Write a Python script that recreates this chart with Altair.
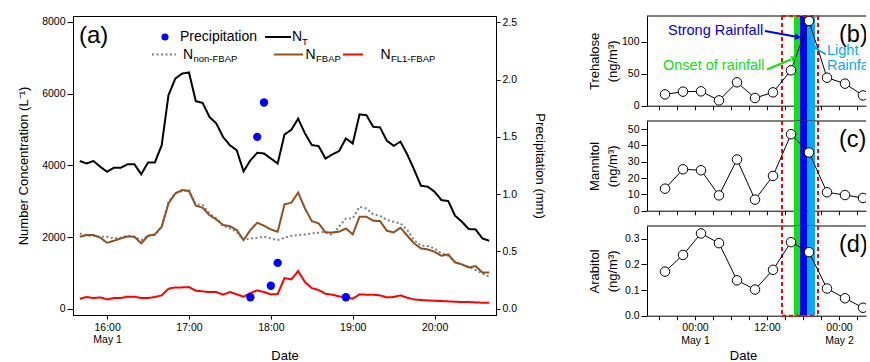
import altair as alt
import pandas as pd

FONT = "Liberation Sans"

# ---------------- Panel (a) data ----------------
times_a = ["15:40","15:45","15:50","15:55","16:00","16:05","16:10","16:15","16:20","16:25",
           "16:30","16:35","16:40","16:45","16:50","16:55","17:00","17:05","17:10","17:15",
           "17:20","17:25","17:30","17:35","17:40","17:45","17:50","17:55","18:00","18:05",
           "18:10","18:15","18:20","18:25","18:30","18:35","18:40","18:45","18:50","18:55",
           "19:00","19:05","19:10","19:15","19:20","19:25","19:30","19:35","19:40","19:45",
           "19:50","19:55","20:00","20:05","20:10","20:15","20:20","20:25","20:30","20:35","20:40"]

n_t = [4120,4050,4120,3960,3820,3930,3930,4030,4030,3750,
       4080,4080,4560,5960,6420,6560,6590,5790,5740,5350,
       5170,4790,4560,4420,3830,4140,4350,4330,4190,4050,
       4860,4990,5300,4890,4565,4537,4190,4304,4397,4750,
       4610,5420,5400,5075,5057,4685,4546,4658,4300,3880,
       3430,3403,3264,3031,3003,2594,2427,2222,2213,1962,1897]

n_fbap = [2008,2055,2055,1980,1840,1896,1961,2017,2008,1822,
          2036,2073,2287,2938,3217,3310,3282,2873,2817,2612,
          2491,2333,2305,2194,1915,2194,2398,2315,2212,2147,
          2910,2957,3240,2798,2445,2380,2129,2129,2147,2240,
          2073,2566,2566,2454,2445,2175,2129,2259,2036,1822,
          1682,1654,1589,1478,1515,1292,1236,1152,1189,1013,1013]

n_nonfbap = [2100,2036,2036,2008,2008,1961,1980,2036,2008,1915,
             2036,2055,2287,2985,3217,3282,3310,2910,2892,2659,
             2519,2315,2240,2147,1915,1961,1980,2008,1961,1915,
             1980,2036,2055,2073,2100,2119,2147,2055,2287,2519,
             2519,2845,2798,2631,2594,2473,2426,2380,2194,1915,
             1757,1747,1682,1543,1478,1310,1236,1171,1078,985,892]

n_fl1 = [280,326,298,316,260,298,298,335,335,298,
         298,326,372,558,595,595,604,502,484,465,
         465,391,465,400,335,437,512,465,400,409,
         855,818,1050,744,577,521,419,391,344,316,
         279,400,391,391,372,316,326,372,307,260,
         242,232,223,214,205,195,186,186,177,167,167]

precip_times = ["17:45", "17:50", "17:55", "18:00", "18:05", "18:55"]
precip_mm = [0.1, 1.5, 1.8, 0.2, 0.4, 0.1]

# ---------------- Panels (b)-(d) data ----------------
sample_times = ["2017-04-30 19:00", "2017-04-30 22:00", "2017-05-01 01:00", "2017-05-01 04:00",
                "2017-05-01 07:00", "2017-05-01 10:00", "2017-05-01 13:00", "2017-05-01 16:00",
                "2017-05-01 19:00", "2017-05-01 22:00", "2017-05-02 01:00", "2017-05-02 04:00"]
trehalose = [17.7, 21.9, 22.4, 8.3, 36.5, 12.0, 20.8, 55.2, 132.3, 43.7, 34.4, 16.1]
mannitol = [13.5, 25.4, 24.8, 9.4, 31.4, 6.8, 21.3, 46.9, 35.7, 11.3, 9.6, 7.8]
arabitol = [0.172, 0.237, 0.321, 0.283, 0.138, 0.102, 0.179, 0.287, 0.248, 0.106, 0.068, 0.031]

band_start = ["2017-05-01 16:30", "2017-05-01 17:30", "2017-05-01 18:45"]
band_end = ["2017-05-01 17:30", "2017-05-01 18:45", "2017-05-01 20:00"]
band_color = ["#11E011", "#0000F2", "#0AA8FA"]
sampling_window = ["2017-05-01 14:30", "2017-05-01 20:30"]


def hm(s):
    h, m = s.split(":")
    return int(h) + int(m) / 60.0


REF = pd.Timestamp("2017-05-01 00:00")


def hrs(s):
    return (pd.Timestamp(s) - REF) / pd.Timedelta(hours=1)


# ---------------- Build panel (a) ----------------
W_A, H_A = 423, 299
t_a = [hm(s) for s in times_a]
series_names = ["N_nonFBAP", "N_FBAP", "N_FL1", "N_T"]
long_rows = []
for name, vals in zip(series_names, [n_nonfbap, n_fbap, n_fl1, n_t]):
    for t, v in zip(t_a, vals):
        long_rows.append({"t": t, "v": v, "s": name})
df_lines = pd.DataFrame(long_rows)
df_precip = pd.DataFrame({"t": [hm(s) for s in precip_times], "p": precip_mm})

x_a = alt.X("t:Q", scale=alt.Scale(domain=[15 + 35 / 60, 20.75], nice=False, zero=False),
            axis=alt.Axis(values=[16, 17, 18, 19, 20], title="Date", tickSize=4, labelPadding=3,
                          labelExpr="datum.value == 16 ? ['16:00', 'May 1'] : format(datum.value, 'd') + ':00'",
                          labelLineHeight=12.5, titleX=W_A / 2, titleY=40,
                          titleBaseline="middle", titleAlign="center"))

lines = alt.Chart(df_lines).mark_line(strokeWidth=2).encode(
    x=x_a,
    y=alt.Y("v:Q", scale=alt.Scale(domain=[-175, 8165], nice=False, zero=False),
            axis=alt.Axis(orient="left", values=[0, 2000, 4000, 6000, 8000], format="d",
                          title="Number Concentration (L⁻¹)", tickSize=6, labelPadding=2,
                          titleX=-50, titleY=H_A / 2, titleAngle=-90, titleBaseline="middle",
                          titleAlign="center")),
    color=alt.Color("s:N", scale=alt.Scale(domain=series_names,
                                           range=["#808080", "#8E5224", "#FF0000", "#000000"]),
                    legend=None),
    strokeDash=alt.StrokeDash("s:N", scale=alt.Scale(domain=series_names,
                                                     range=[[2, 2.5], [1, 0], [1, 0], [1, 0]]),
                              legend=None),
    detail="s:N",
)

precip = alt.Chart(df_precip).mark_circle(color="#0000FF", size=70, opacity=1).encode(
    x=x_a,
    y=alt.Y("p:Q", scale=alt.Scale(domain=[-0.055, 2.555], nice=False, zero=False),
            axis=alt.Axis(orient="right", values=[0, 0.5, 1.0, 1.5, 2.0, 2.5], format=".1f",
                          title="Precipitation (mm)", titleAngle=90, tickSize=4, labelPadding=2,
                          titleX=43, titleY=H_A / 2, titleBaseline="middle",
                          titleAlign="center")),
)

one = pd.DataFrame({"k": [0]})


def txt(x, y, s, size=14, color="black", align="left", clip=False):
    return alt.Chart(one).mark_text(text=s, fontSize=size, font=FONT, color=color,
                                    align=align, baseline="middle", clip=clip).encode(
        x=alt.value(x), y=alt.value(y))


def hrule(x1, x2, y, color, width=2, dash=None):
    kw = dict(color=color, strokeWidth=width)
    if dash:
        kw["strokeDash"] = dash
    return alt.Chart(one).mark_rule(**kw).encode(x=alt.value(x1), x2=alt.value(x2),
                                                 y=alt.value(y), y2=alt.value(y))


def seg(x1, y1, x2, y2, color, width=2):
    return alt.Chart(one).mark_rule(color=color, strokeWidth=width).encode(
        x=alt.value(x1), x2=alt.value(x2), y=alt.value(y1), y2=alt.value(y2))


def head(x, y, angle, color, size=45):
    return alt.Chart(one).mark_point(shape="triangle", filled=True, size=size, angle=angle,
                                     color=color, opacity=1).encode(x=alt.value(x), y=alt.value(y))


legend_a = [
    txt(6, 20, "(a)", size=24),
    alt.Chart(one).mark_circle(color="#0000FF", size=50, opacity=1).encode(
        x=alt.value(92), y=alt.value(21)),
    txt(107, 21, "Precipitation"),
    hrule(192, 218, 21, "black"),
    txt(219, 21, "N"),
    txt(229, 25.5, "T", size=9.5),
    hrule(79, 103, 38.5, "#808080", dash=[2, 2.5]),
    txt(110, 38.5, "N"),
    txt(120.5, 43, "non-FBAP", size=9.5),
    hrule(201, 230, 38.5, "#8E5224"),
    txt(232.5, 38.5, "N"),
    txt(243, 43, "FBAP", size=9.5),
    hrule(270, 290, 38.5, "#FF0000"),
    txt(307.5, 38.5, "N"),
    txt(318, 43, "FL1-FBAP", size=9.5),
]

panel_a = alt.layer(lines, precip, *legend_a).resolve_scale(y="independent").properties(
    width=W_A, height=H_A)

# ---------------- Build panels (b)-(d) ----------------
W_R, H_R = 219, 89.7
GAP = 15
df_r = pd.DataFrame({"h": [hrs(s) for s in sample_times], "tre": trehalose,
                     "man": mannitol, "ara": arabitol})
df_bands = pd.DataFrame({"s": [hrs(s) for s in band_start], "e": [hrs(s) for s in band_end],
                         "c": band_color})
df_win = pd.DataFrame({"s": [hrs(sampling_window[0])], "e": [hrs(sampling_window[1])]})
df_win_lines = pd.DataFrame({"w": [hrs(s) for s in sampling_window]})

x_ticks = [-6, -3, 0, 3, 6, 9, 12, 15, 18, 21, 24, 27]


def x_r(field, labels):
    if labels:
        ax = alt.Axis(values=x_ticks, title="Date", tickSize=4, labelPadding=3,
                      labelExpr="datum.value == 0 ? ['00:00', 'May 1'] : datum.value == 12 ? '12:00' : datum.value == 24 ? ['00:00', 'May 2'] : ''",
                      labelLineHeight=12.5, titleX=96, titleY=40,
                      titleBaseline="middle", titleAlign="center")
    else:
        ax = alt.Axis(values=x_ticks, title=None, labels=False, tickSize=4)
    return alt.X(field, scale=alt.Scale(domain=[-8, -8 + W_R / 6.0], nice=False, zero=False),
                 axis=ax)


def right_panel(field, dom, vals, fmt, title, labels, ext_down, top_rule, bottom_rule, tag, extra):
    yax = alt.Axis(values=vals, format=fmt, title=title, tickSize=6, labelPadding=2,
                   titleX=-53, titleY=H_R / 2, titleAngle=-90, titleBaseline="middle",
                   titleAlign="center", titleLineHeight=18)
    y_enc = alt.Y(f"{field}:Q", scale=alt.Scale(domain=dom, nice=False, zero=True), axis=yax)
    frame_top = alt.Chart(one).mark_rule(color="black", strokeWidth=1).encode(
        x=alt.value(0), x2=alt.value(W_R), y=alt.value(0), y2=alt.value(0))
    bands = alt.Chart(df_bands).mark_rect(opacity=1).encode(
        x=x_r("s:Q", labels), x2="e:Q", y=alt.value(0), y2=alt.value(H_R + ext_down),
        color=alt.Color("c:N", scale=None))
    vlines = alt.Chart(df_win_lines).mark_rule(color="#FF0000", strokeWidth=2,
                                               strokeDash=[4, 3]).encode(
        x=x_r("w:Q", labels), y=alt.value(0), y2=alt.value(H_R + ext_down))
    layers = [frame_top, bands, vlines]
    if top_rule:
        layers.append(alt.Chart(df_win).mark_rule(color="#FF0000", strokeWidth=2,
                                                  strokeDash=[4, 3]).encode(
            x=x_r("s:Q", labels), x2="e:Q", y=alt.value(0), y2=alt.value(0)))
    if bottom_rule:
        layers.append(alt.Chart(df_win).mark_rule(color="#FF0000", strokeWidth=2,
                                                  strokeDash=[4, 3]).encode(
            x=x_r("s:Q", labels), x2="e:Q", y=alt.value(H_R), y2=alt.value(H_R)))
    line = alt.Chart(df_r).mark_line(color="black", strokeWidth=1, clip=True).encode(
        x=x_r("h:Q", labels), y=y_enc)
    pts = alt.Chart(df_r).mark_point(shape="circle", filled=True, fill="white", stroke="black",
                                     strokeWidth=1, size=90, opacity=1, clip=True).encode(
        x=x_r("h:Q", labels), y=y_enc)
    layers += [line, pts]
    layers += extra
    layers.append(txt(192, 18.5, tag, size=23.5, clip=True))
    return alt.layer(*layers).properties(width=W_R, height=H_R,
                                         view=alt.ViewBackground(stroke="transparent"))


annot_b = [
    txt(21, 14.5, "Strong Rainfall", size=14.5, color="#0000F2"),
    seg(118, 15, 148, 20.5, "#0000F2"),
    head(150, 21, 100, "#0000F2"),
    txt(16, 50, "Onset of rainfall", size=14.5, color="#11E011"),
    seg(120, 53.5, 144, 43.5, "#11E011"),
    head(146.5, 42.5, 68, "#11E011"),
    alt.Chart(one).mark_text(text=["Light", "Rainfall"], fontSize=14.5, font=FONT,
                             color="#0AA8FA", align="left", baseline="middle",
                             lineHeight=15, clip=True).encode(x=alt.value(180), y=alt.value(35)),
    seg(179, 38.5, 169, 32.5, "#0AA8FA"),
    head(167.5, 31.5, 300, "#0AA8FA"),
]

pb = right_panel("tre", [0, 140], [0, 50, 100], "d", ["Trehalose", "(ng/m³)"], False, GAP,
                 True, False, "(b)", annot_b)
pc = right_panel("man", [0, 55], [0, 10, 20, 30, 40, 50], "d", ["Mannitol", "(ng/m³)"], False,
                 GAP, False, False, "(c)", [])
pd_ = right_panel("ara", [0, 0.35], [0, 0.1, 0.2, 0.3], ".1f", ["Arabitol", "(ng/m³)"], True,
                  0, False, True, "(d)", [])

right = alt.vconcat(pb, pc, pd_, spacing=GAP, bounds="flush")

chart = alt.hconcat(panel_a, right, spacing=151, bounds="flush").properties(
    padding={"left": 16, "top": 14, "right": 0, "bottom": 0}
).configure_axis(
    labelFont=FONT, titleFont=FONT, labelFontSize=10.5, titleFontSize=13,
    titleFontWeight="normal", labelColor="black", titleColor="black",
    domainColor="black", tickColor="black", grid=False,
).configure_view(stroke="black", strokeWidth=1).configure_text(font=FONT)

chart.save("out.html", embed_options={"renderer": "svg", "actions": False})
